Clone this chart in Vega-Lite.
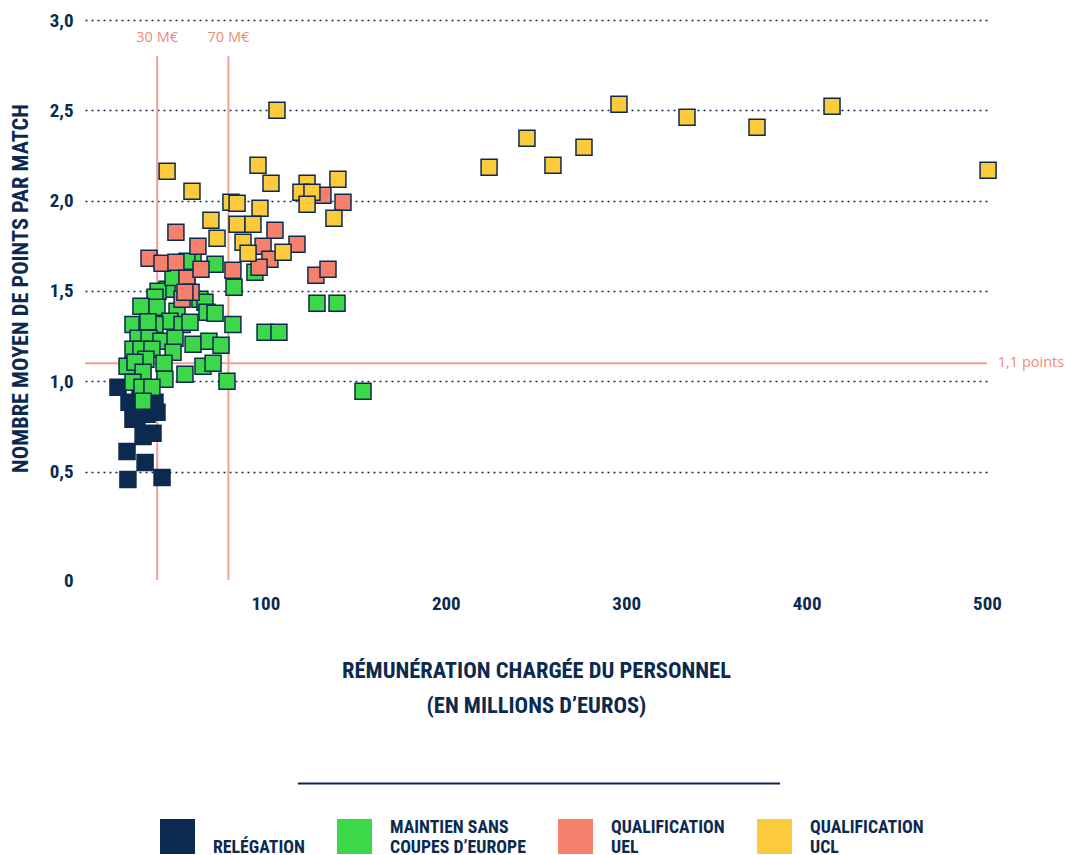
{
  "$schema": "https://vega.github.io/schema/vega-lite/v6.json",
  "width": 902,
  "height": 560,
  "autosize": {"type": "none"},
  "padding": {"left": 85, "top": 20, "right": 78, "bottom": 275},
  "background": "white",
  "config": {
    "view": {"stroke": null},
    "font": "Roboto Condensed, Liberation Sans Narrow, Roboto, sans-serif"
  },
  "datasets": {
    "clubs": [
      {"remuneration": 18.3, "points": 0.967, "resultat": "Relégation"},
      {"remuneration": 24.4, "points": 0.884, "resultat": "Relégation"},
      {"remuneration": 28.8, "points": 0.790, "resultat": "Relégation"},
      {"remuneration": 32.2, "points": 0.695, "resultat": "Relégation"},
      {"remuneration": 37.7, "points": 0.712, "resultat": "Relégation"},
      {"remuneration": 23.3, "points": 0.612, "resultat": "Relégation"},
      {"remuneration": 33.3, "points": 0.551, "resultat": "Relégation"},
      {"remuneration": 23.8, "points": 0.457, "resultat": "Relégation"},
      {"remuneration": 42.7, "points": 0.468, "resultat": "Relégation"},
      {"remuneration": 38.8, "points": 0.884, "resultat": "Relégation"},
      {"remuneration": 39.9, "points": 0.828, "resultat": "Relégation"},
      {"remuneration": 30.5, "points": 0.928, "resultat": "Relégation"},
      {"remuneration": 36.0, "points": 0.956, "resultat": "Relégation"},
      {"remuneration": 26.6, "points": 0.790, "resultat": "Relégation"},
      {"remuneration": 34.4, "points": 0.817, "resultat": "Relégation"},
      {"remuneration": 72.1, "points": 1.648, "resultat": "Maintien sans coupes d’Europe"},
      {"remuneration": 59.9, "points": 1.659, "resultat": "Maintien sans coupes d’Europe"},
      {"remuneration": 94.2, "points": 1.604, "resultat": "Maintien sans coupes d’Europe"},
      {"remuneration": 82.6, "points": 1.521, "resultat": "Maintien sans coupes d’Europe"},
      {"remuneration": 51.0, "points": 1.582, "resultat": "Maintien sans coupes d’Europe"},
      {"remuneration": 56.5, "points": 1.548, "resultat": "Maintien sans coupes d’Europe"},
      {"remuneration": 45.5, "points": 1.509, "resultat": "Maintien sans coupes d’Europe"},
      {"remuneration": 40.5, "points": 1.498, "resultat": "Maintien sans coupes d’Europe"},
      {"remuneration": 38.8, "points": 1.465, "resultat": "Maintien sans coupes d’Europe"},
      {"remuneration": 31.0, "points": 1.415, "resultat": "Maintien sans coupes d’Europe"},
      {"remuneration": 39.9, "points": 1.410, "resultat": "Maintien sans coupes d’Europe"},
      {"remuneration": 51.0, "points": 1.388, "resultat": "Maintien sans coupes d’Europe"},
      {"remuneration": 63.7, "points": 1.454, "resultat": "Maintien sans coupes d’Europe"},
      {"remuneration": 66.5, "points": 1.437, "resultat": "Maintien sans coupes d’Europe"},
      {"remuneration": 67.6, "points": 1.382, "resultat": "Maintien sans coupes d’Europe"},
      {"remuneration": 72.1, "points": 1.377, "resultat": "Maintien sans coupes d’Europe"},
      {"remuneration": 47.1, "points": 1.332, "resultat": "Maintien sans coupes d’Europe"},
      {"remuneration": 26.6, "points": 1.315, "resultat": "Maintien sans coupes d’Europe"},
      {"remuneration": 34.4, "points": 1.315, "resultat": "Maintien sans coupes d’Europe"},
      {"remuneration": 38.8, "points": 1.315, "resultat": "Maintien sans coupes d’Europe"},
      {"remuneration": 53.8, "points": 1.315, "resultat": "Maintien sans coupes d’Europe"},
      {"remuneration": 58.2, "points": 1.327, "resultat": "Maintien sans coupes d’Europe"},
      {"remuneration": 82.0, "points": 1.315, "resultat": "Maintien sans coupes d’Europe"},
      {"remuneration": 99.8, "points": 1.271, "resultat": "Maintien sans coupes d’Europe"},
      {"remuneration": 107.5, "points": 1.271, "resultat": "Maintien sans coupes d’Europe"},
      {"remuneration": 128.6, "points": 1.432, "resultat": "Maintien sans coupes d’Europe"},
      {"remuneration": 139.7, "points": 1.432, "resultat": "Maintien sans coupes d’Europe"},
      {"remuneration": 29.4, "points": 1.238, "resultat": "Maintien sans coupes d’Europe"},
      {"remuneration": 35.5, "points": 1.238, "resultat": "Maintien sans coupes d’Europe"},
      {"remuneration": 42.1, "points": 1.222, "resultat": "Maintien sans coupes d’Europe"},
      {"remuneration": 49.9, "points": 1.238, "resultat": "Maintien sans coupes d’Europe"},
      {"remuneration": 59.9, "points": 1.205, "resultat": "Maintien sans coupes d’Europe"},
      {"remuneration": 68.7, "points": 1.222, "resultat": "Maintien sans coupes d’Europe"},
      {"remuneration": 75.4, "points": 1.199, "resultat": "Maintien sans coupes d’Europe"},
      {"remuneration": 26.6, "points": 1.177, "resultat": "Maintien sans coupes d’Europe"},
      {"remuneration": 31.0, "points": 1.177, "resultat": "Maintien sans coupes d’Europe"},
      {"remuneration": 37.1, "points": 1.177, "resultat": "Maintien sans coupes d’Europe"},
      {"remuneration": 48.8, "points": 1.161, "resultat": "Maintien sans coupes d’Europe"},
      {"remuneration": 23.3, "points": 1.083, "resultat": "Maintien sans coupes d’Europe"},
      {"remuneration": 33.8, "points": 1.122, "resultat": "Maintien sans coupes d’Europe"},
      {"remuneration": 27.7, "points": 1.105, "resultat": "Maintien sans coupes d’Europe"},
      {"remuneration": 43.8, "points": 1.100, "resultat": "Maintien sans coupes d’Europe"},
      {"remuneration": 32.2, "points": 1.050, "resultat": "Maintien sans coupes d’Europe"},
      {"remuneration": 44.3, "points": 1.011, "resultat": "Maintien sans coupes d’Europe"},
      {"remuneration": 55.4, "points": 1.039, "resultat": "Maintien sans coupes d’Europe"},
      {"remuneration": 65.4, "points": 1.083, "resultat": "Maintien sans coupes d’Europe"},
      {"remuneration": 71.0, "points": 1.100, "resultat": "Maintien sans coupes d’Europe"},
      {"remuneration": 78.7, "points": 1.000, "resultat": "Maintien sans coupes d’Europe"},
      {"remuneration": 26.6, "points": 0.994, "resultat": "Maintien sans coupes d’Europe"},
      {"remuneration": 31.6, "points": 0.967, "resultat": "Maintien sans coupes d’Europe"},
      {"remuneration": 37.1, "points": 0.967, "resultat": "Maintien sans coupes d’Europe"},
      {"remuneration": 32.2, "points": 0.889, "resultat": "Maintien sans coupes d’Europe"},
      {"remuneration": 154.1, "points": 0.945, "resultat": "Maintien sans coupes d’Europe"},
      {"remuneration": 56.5, "points": 1.664, "resultat": "Maintien sans coupes d’Europe"},
      {"remuneration": 48.8, "points": 1.575, "resultat": "Maintien sans coupes d’Europe"},
      {"remuneration": 34.9, "points": 1.330, "resultat": "Maintien sans coupes d’Europe"},
      {"remuneration": 35.5, "points": 1.681, "resultat": "Qualification UEL"},
      {"remuneration": 42.7, "points": 1.653, "resultat": "Qualification UEL"},
      {"remuneration": 50.4, "points": 1.825, "resultat": "Qualification UEL"},
      {"remuneration": 50.4, "points": 1.659, "resultat": "Qualification UEL"},
      {"remuneration": 56.5, "points": 1.570, "resultat": "Qualification UEL"},
      {"remuneration": 58.8, "points": 1.493, "resultat": "Qualification UEL"},
      {"remuneration": 53.8, "points": 1.454, "resultat": "Qualification UEL"},
      {"remuneration": 62.6, "points": 1.747, "resultat": "Qualification UEL"},
      {"remuneration": 64.3, "points": 1.620, "resultat": "Qualification UEL"},
      {"remuneration": 82.0, "points": 1.615, "resultat": "Qualification UEL"},
      {"remuneration": 98.7, "points": 1.747, "resultat": "Qualification UEL"},
      {"remuneration": 102.5, "points": 1.675, "resultat": "Qualification UEL"},
      {"remuneration": 96.5, "points": 1.631, "resultat": "Qualification UEL"},
      {"remuneration": 105.3, "points": 1.836, "resultat": "Qualification UEL"},
      {"remuneration": 117.5, "points": 1.759, "resultat": "Qualification UEL"},
      {"remuneration": 128.0, "points": 1.587, "resultat": "Qualification UEL"},
      {"remuneration": 134.7, "points": 1.620, "resultat": "Qualification UEL"},
      {"remuneration": 131.9, "points": 2.030, "resultat": "Qualification UEL"},
      {"remuneration": 143.0, "points": 1.991, "resultat": "Qualification UEL"},
      {"remuneration": 55.4, "points": 1.493, "resultat": "Qualification UEL"},
      {"remuneration": 106.4, "points": 2.500, "resultat": "Qualification UCL"},
      {"remuneration": 45.5, "points": 2.163, "resultat": "Qualification UCL"},
      {"remuneration": 59.3, "points": 2.052, "resultat": "Qualification UCL"},
      {"remuneration": 95.9, "points": 2.196, "resultat": "Qualification UCL"},
      {"remuneration": 103.1, "points": 2.096, "resultat": "Qualification UCL"},
      {"remuneration": 123.1, "points": 2.096, "resultat": "Qualification UCL"},
      {"remuneration": 140.2, "points": 2.118, "resultat": "Qualification UCL"},
      {"remuneration": 119.7, "points": 2.046, "resultat": "Qualification UCL"},
      {"remuneration": 125.8, "points": 2.046, "resultat": "Qualification UCL"},
      {"remuneration": 80.9, "points": 1.991, "resultat": "Qualification UCL"},
      {"remuneration": 84.3, "points": 1.985, "resultat": "Qualification UCL"},
      {"remuneration": 97.0, "points": 1.958, "resultat": "Qualification UCL"},
      {"remuneration": 123.1, "points": 1.980, "resultat": "Qualification UCL"},
      {"remuneration": 138.0, "points": 1.902, "resultat": "Qualification UCL"},
      {"remuneration": 69.8, "points": 1.891, "resultat": "Qualification UCL"},
      {"remuneration": 73.2, "points": 1.792, "resultat": "Qualification UCL"},
      {"remuneration": 84.3, "points": 1.869, "resultat": "Qualification UCL"},
      {"remuneration": 93.1, "points": 1.869, "resultat": "Qualification UCL"},
      {"remuneration": 87.6, "points": 1.770, "resultat": "Qualification UCL"},
      {"remuneration": 90.4, "points": 1.709, "resultat": "Qualification UCL"},
      {"remuneration": 109.8, "points": 1.714, "resultat": "Qualification UCL"},
      {"remuneration": 224.0, "points": 2.185, "resultat": "Qualification UCL"},
      {"remuneration": 245.0, "points": 2.345, "resultat": "Qualification UCL"},
      {"remuneration": 259.4, "points": 2.196, "resultat": "Qualification UCL"},
      {"remuneration": 276.6, "points": 2.296, "resultat": "Qualification UCL"},
      {"remuneration": 296.0, "points": 2.533, "resultat": "Qualification UCL"},
      {"remuneration": 333.7, "points": 2.462, "resultat": "Qualification UCL"},
      {"remuneration": 372.5, "points": 2.406, "resultat": "Qualification UCL"},
      {"remuneration": 414.1, "points": 2.522, "resultat": "Qualification UCL"},
      {"remuneration": 500.6, "points": 2.168, "resultat": "Qualification UCL"}
    ],
    "seuils_masse": [
      {"remuneration": 40, "libelle": "30 M€"},
      {"remuneration": 79.5, "libelle": "70 M€"}
    ],
    "seuil_points": [
      {"points": 1.1, "libelle": "1,1 points"}
    ],
    "separateur": [
      {"debut": 118, "fin": 385.3, "niveau": -1.226}
    ]
  },
  "layer": [
    {
      "data": {"name": "seuils_masse"},
      "mark": {"type": "rule", "color": "#f3a190", "strokeWidth": 2},
      "encoding": {
        "x": {"field": "remuneration", "type": "quantitative"},
        "y": {"datum": 2.8, "type": "quantitative"},
        "y2": {"datum": -0.1}
      }
    },
    {
      "data": {"name": "seuils_masse"},
      "mark": {"type": "text", "color": "#f08a74", "font": "Open Sans", "fontSize": 14.5, "baseline": "middle", "align": "center"},
      "encoding": {
        "x": {"field": "remuneration", "type": "quantitative"},
        "y": {"datum": 2.9, "type": "quantitative"},
        "text": {"field": "libelle"}
      }
    },
    {
      "data": {"name": "seuil_points"},
      "mark": {"type": "rule", "color": "#f3a190", "strokeWidth": 2},
      "encoding": {
        "y": {"field": "points", "type": "quantitative"}
      }
    },
    {
      "data": {"name": "seuil_points"},
      "mark": {"type": "text", "color": "#f08a74", "font": "Open Sans", "fontSize": 14.5, "baseline": "middle", "align": "left"},
      "encoding": {
        "x": {"datum": 506, "type": "quantitative"},
        "y": {"field": "points", "type": "quantitative"},
        "text": {"field": "libelle"}
      }
    },
    {
      "data": {"name": "clubs"},
      "mark": {"type": "square", "size": 256, "filled": true, "opacity": 1, "stroke": "#0c2a4f", "strokeWidth": 1.5},
      "encoding": {
        "x": {
          "field": "remuneration",
          "type": "quantitative",
          "scale": {"domain": [0, 500], "nice": false, "zero": false},
          "axis": {
            "values": [100, 200, 300, 400, 500],
            "format": "d",
            "domain": false,
            "ticks": false,
            "grid": false,
            "labelFlush": false,
            "labelFontSize": 19,
            "labelFontWeight": "bold",
            "labelColor": "#0c2a4f",
            "labelPadding": 14,
            "title": ["RÉMUNÉRATION CHARGÉE DU PERSONNEL", "(EN MILLIONS D’EUROS)"],
            "titleFontSize": 22.5,
            "titleFontWeight": "bold",
            "titleColor": "#0c2a4f",
            "titleLineHeight": 35,
            "titlePadding": 46
          }
        },
        "y": {
          "field": "points",
          "type": "quantitative",
          "scale": {"domain": [-0.1, 3.0], "nice": false, "zero": false},
          "axis": {
            "values": [-0.1, 0.5, 1, 1.5, 2, 2.5, 3],
            "labelExpr": "datum.value < 0 ? '0' : replace(format(datum.value, '.1f'), '.', ',')",
            "domain": false,
            "ticks": false,
            "grid": true,
            "gridColor": "#0c2a4f",
            "gridDash": [2, 4],
            "gridWidth": 1.5,
            "gridOpacity": {"condition": {"test": "datum.value < 0", "value": 0}, "value": 1},
            "labelFontSize": 19,
            "labelFontWeight": "bold",
            "labelColor": "#0c2a4f",
            "labelPadding": 12,
            "title": "NOMBRE MOYEN DE POINTS PAR MATCH",
            "titleFontSize": 22.3,
            "titleFontWeight": "bold",
            "titleColor": "#0c2a4f",
            "titlePadding": 17,
            "titleY": 268
          }
        },
        "color": {
          "field": "resultat",
          "type": "nominal",
          "scale": {
            "domain": ["Relégation", "Maintien sans coupes d’Europe", "Qualification UEL", "Qualification UCL"],
            "range": ["#0c2a4f", "#3dd84a", "#f5806c", "#fccb3c"]
          },
          "legend": {
            "orient": "none",
            "legendX": 75,
            "legendY": 790.5,
            "direction": "horizontal",
            "title": null,
            "symbolType": "M-1,-0.514L1,-0.514L1,1.486L-1,1.486Z",
            "symbolSize": 1225,
            "symbolStrokeWidth": 0,
            "symbolOpacity": 1,
            "labelFontSize": 17.8,
            "labelFontWeight": "bold",
            "labelColor": "#0c2a4f",
            "labelOffset": 18,
            "labelLimit": 300,
            "labelLineHeight": 9,
            "columnPadding": 32,
            "labelExpr": "datum.label == 'Maintien sans coupes d’Europe' ? ['MAINTIEN SANS', '\u00a0', 'COUPES D’EUROPE'] : datum.label == 'Qualification UEL' ? ['QUALIFICATION', '\u00a0', 'UEL'] : datum.label == 'Qualification UCL' ? ['QUALIFICATION', '\u00a0', 'UCL'] : ['\u00a0', 'RELÉGATION', '\u00a0']"
          }
        }
      }
    },
    {
      "data": {"name": "separateur"},
      "mark": {"type": "rule", "color": "#0c2a4f", "strokeWidth": 2},
      "encoding": {
        "x": {"field": "debut", "type": "quantitative"},
        "x2": {"field": "fin"},
        "y": {"field": "niveau", "type": "quantitative"}
      }
    }
  ]
}
